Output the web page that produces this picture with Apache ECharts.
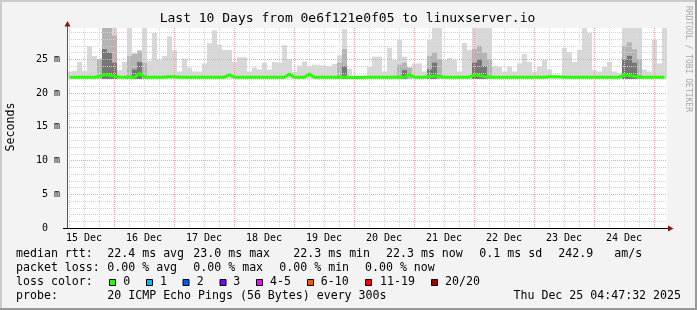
<!DOCTYPE html>
<html><head><meta charset="utf-8">
<script src="https://cdn.jsdelivr.net/npm/echarts@6/dist/echarts.min.js"></script>
<style>html,body{margin:0;padding:0;background:#f3f3f3}#c{width:697px;height:310px}</style>
</head><body><div id="c"></div>
<script>
// ---- data ----
const START_HOUR = 5.2;     // hours after 15 Dec 00:00 at left edge
const END_HOUR = 245.2;
const BIN_HOURS = 2;
const Y_MAX = 29.64;        // ms
const SMOKE_FLOOR = 22.1;   // ms
const dayLabels = ['15 Dec','16 Dec','17 Dec','18 Dec','19 Dec','20 Dec','21 Dec','22 Dec','23 Dec','24 Dec'];
const yTickValues = [0,5,10,15,20,25];
// top of the smoke (max of the 20 pings) per 2-hour bin, ms
const smokeTop = [
  23.2,23.3,24.6,23.3,26.9,25.5,24.5,29.7,29.7,29.7,
  23.4,24.6,29.7,25.9,26.0,29.7,24.8,28.9,24.9,25.5,
  28.4,26.3,23.2,25.1,23.8,23.2,23.2,24.4,27.4,29.3,
  27.2,26.4,26.4,24.6,25.3,25.3,23.2,23.8,23.5,24.5,
  23.5,24.6,24.5,27.1,25.0,23.2,24.1,24.7,24.0,24.2,
  24.1,24.1,24.0,24.3,25.6,29.5,23.6,22.6,22.6,22.6,
  23.9,25.4,25.4,23.2,26.7,24.9,27.9,25.4,23.2,24.4,
  24.4,23.2,27.9,29.7,29.7,24.9,25.2,24.9,23.2,27.4,
  26.4,29.7,29.7,29.7,29.7,24.0,23.9,23.2,23.9,23.2,
  24.4,25.8,24.6,23.2,23.9,24.9,23.5,22.6,22.6,26.7,
  26.1,24.6,26.4,29.7,28.9,23.4,23.2,23.9,24.6,23.2,
  23.0,29.7,29.7,29.7,29.7,23.5,23.2,27.9,24.4,29.7
];
// inner (denser) smoke layers: [bin, top ms]
const smokeMid = [[6,25.0],[7,29.7],[8,29.7],[9,28.5],[12,25.5],[13,25.8],[14,26.3],[15,24.5],
  [54,24.5],[55,26.5],[66,24.2],[67,24.5],[68,23.8],[72,25.5],[73,26.0],[74,25.0],
  [81,26.5],[82,27.0],[83,26.0],[84,25.0],[111,27.0],[112,27.5],[113,26.5],[114,25.0]];
const smokeDark = [[7,26.5],[8,26.0],[9,24.5],[13,23.5],[14,24.6],[55,24.0],[67,23.4],
  [72,23.5],[73,24.5],[81,24.5],[82,25.0],[83,24.0],[111,25.0],[112,25.5],[113,24.5]];
// median rtt per 2-hour bin, ms
const medianRtt = [
  22.35,22.35,22.35,22.35,22.35,22.35,22.45,22.75,22.65,22.5,
  22.35,22.35,22.35,22.35,22.9,22.35,22.35,22.35,22.35,22.35,
  22.4,22.4,22.35,22.35,22.35,22.35,22.35,22.35,22.35,22.35,
  22.35,22.35,22.7,22.35,22.35,22.35,22.35,22.35,22.35,22.35,
  22.35,22.35,22.35,22.35,22.8,22.35,22.35,22.35,22.8,22.35,
  22.35,22.35,22.35,22.35,22.35,22.4,22.3,22.3,22.3,22.35,
  22.35,22.35,22.35,22.35,22.35,22.35,22.35,22.35,22.75,22.35,
  22.35,22.35,22.5,22.5,22.5,22.35,22.35,22.35,22.35,22.35,
  22.35,22.7,22.6,22.45,22.35,22.35,22.35,22.35,22.35,22.35,
  22.35,22.35,22.35,22.35,22.35,22.35,22.4,22.4,22.4,22.35,
  22.35,22.35,22.35,22.35,22.35,22.35,22.35,22.35,22.35,22.35,
  22.35,22.7,22.6,22.5,22.35,22.35,22.35,22.35,22.35,22.35
];
const rttStats = ['22.4 ms avg','23.0 ms max','22.3 ms min','22.3 ms now','0.1 ms sd','242.9','am/s'];
const lossStats = ['0.00 % avg','0.00 % max','0.00 % min','0.00 % now'];
const lossLabels = ['0','1','2','3','4-5','6-10','11-19','20/20'];
const lossColors = ['#26ff00','#00b8ff','#0059ff','#7e00ff','#ff00ff','#ff5500','#ff0000','#a10000'];
const probeText = '20 ICMP Echo Pings (56 Bytes) every 300s';
const stampText = 'Thu Dec 25 04:47:32 2025';
const titleText = 'Last 10 Days from 0e6f121e0f05 to linuxserver.io';

// ---- layout ----
const MONO = '"DejaVu Sans Mono", monospace';
const sixHours = [], midnights = [], noons = [];
for (let h = 6; h < END_HOUR; h += 6) { if (h > START_HOUR) sixHours.push(h); }
for (let d = 1; d <= 10; d++) midnights.push(24 * d);
for (let d = 0; d < 10; d++) noons.push(12 + 24 * d);
const minorY = []; for (let v = 1; v < Y_MAX; v++) minorY.push(v);

function binStart(i) { return START_HOUR + BIN_HOURS * i; }
const lightData = smokeTop.map((v, i) => [binStart(i), SMOKE_FLOOR, v]);
const midData = smokeMid.map(p => [binStart(p[0]), SMOKE_FLOOR, p[1]]);
const darkData = smokeDark.map(p => [binStart(p[0]), SMOKE_FLOOR, p[1]]);
const medData = medianRtt.map((v, i) => [binStart(i) + BIN_HOURS / 2, v]);

function smokeRender(color) {
  return function (params, api) {
    const t = api.value(0), lo = api.value(1), hi = Math.min(api.value(2), Y_MAX);
    const a = api.coord([t, hi]);
    const b = api.coord([t + BIN_HOURS, lo]);
    return { type: 'rect', shape: { x: a[0], y: a[1], width: b[0] - a[0], height: b[1] - a[1] },
      style: { fill: color } };
  };
}
function smokeSeries(name, data, color, z) {
  return { name, type: 'custom', data, renderItem: smokeRender(color), xAxisIndex: 0, yAxisIndex: 0,
    encode: { x: 0, y: [1, 2] }, clip: true, z, silent: true };
}

function txt(x, y, s, extra) {
  return { type: 'text', x, y, silent: true,
    style: Object.assign({ text: s, font: '11.6px ' + MONO, fill: '#000', align: 'left', verticalAlign: 'middle' }, extra || {}) };
}
const rowY = [253.6, 267.6, 281.6, 295.6];
const rttX = [107.3, 193.3, 293.3, 386, 479.3, 558.3, 614.3];
const lossX = [107.3, 193.3, 279.3, 365];
const boxX = [109, 146, 182.5, 219.5, 256, 307, 365, 431];
const boxLabelX = [123.3, 160, 196.7, 233.3, 270, 320.7, 380, 445];

const graphic = [];
// frame shading
graphic.push({ type: 'rect', shape: { x: 0, y: 0, width: 697, height: 2 }, style: { fill: '#cbcbcb' }, silent: true });
graphic.push({ type: 'rect', shape: { x: 0, y: 0, width: 2, height: 310 }, style: { fill: '#cbcbcb' }, silent: true });
graphic.push({ type: 'rect', shape: { x: 0, y: 308, width: 697, height: 2 }, style: { fill: '#999999' }, silent: true });
graphic.push({ type: 'rect', shape: { x: 695, y: 0, width: 2, height: 310 }, style: { fill: '#999999' }, silent: true });
// axis extensions and arrows
graphic.push({ type: 'line', shape: { x1: 63, y1: 228.5, x2: 67, y2: 228.5 }, style: { stroke: '#000', lineWidth: 1 }, silent: true, z: 10 });
graphic.push({ type: 'line', shape: { x1: 667, y1: 228.5, x2: 669, y2: 228.5 }, style: { stroke: '#000', lineWidth: 1 }, silent: true, z: 10 });
graphic.push({ type: 'line', shape: { x1: 67.5, y1: 28, x2: 67.5, y2: 26 }, style: { stroke: '#555', lineWidth: 1 }, silent: true, z: 10 });
graphic.push({ type: 'polygon', shape: { points: [[668, 225.5], [673.5, 228.5], [668, 231.5]] }, style: { fill: '#8b1010' }, silent: true, z: 10 });
graphic.push({ type: 'polygon', shape: { points: [[64.5, 26.5], [67.5, 21], [70.5, 26.5]] }, style: { fill: '#8b1010' }, silent: true, z: 10 });
// side texts
graphic.push(txt(10.5, 127, 'Seconds', { align: 'center', font: '11.6px ' + MONO }));
graphic[graphic.length - 1].rotation = Math.PI / 2;
graphic.push(txt(688.5, 59, 'RRDTOOL / TOBI OETIKER', { align: 'center', font: '8px ' + MONO, fill: '#a8a8a8' }));
graphic[graphic.length - 1].rotation = -Math.PI / 2;
graphic.push(txt(347.5, 18.5, titleText, { align: 'center', font: '13px ' + MONO }));
// legend rows
graphic.push(txt(16, rowY[0], 'median rtt:'));
rttStats.forEach((s, i) => graphic.push(txt(rttX[i], rowY[0], s)));
graphic.push(txt(16, rowY[1], 'packet loss:'));
lossStats.forEach((s, i) => graphic.push(txt(lossX[i], rowY[1], s)));
graphic.push(txt(16, rowY[2], 'loss color:'));
lossLabels.forEach((s, i) => {
  graphic.push({ type: 'rect', shape: { x: boxX[i] + 0.5, y: 279.5, width: 6, height: 6 },
    style: { fill: lossColors[i], stroke: '#000', lineWidth: 1 }, silent: true });
  graphic.push(txt(boxLabelX[i], rowY[2], s));
});
graphic.push(txt(16, rowY[3], 'probe:'));
graphic.push(txt(107.3, rowY[3], probeText));
graphic.push(txt(681, rowY[3], stampText, { align: 'right' }));

const gridLine = { color: '#d2d2d2', width: 1, type: [1, 1] };
const majorLine = { color: '#f4a0a0', width: 1, type: [1, 1] };
const labelStyle = { fontFamily: MONO, fontSize: 10, color: '#000' };

const option = {
  animation: false,
  backgroundColor: '#f3f3f3',
  grid: { left: 67, top: 28, width: 600, height: 200, show: true, backgroundColor: '#ffffff', borderWidth: 0, outerBoundsMode: 'none' },
  xAxis: [
    { type: 'value', min: START_HOUR, max: END_HOUR, position: 'bottom', z: 3,
      axisLine: { show: false }, axisLabel: { show: false },
      axisTick: { show: false, customValues: sixHours },
      splitLine: { show: true, lineStyle: gridLine } },
    { type: 'value', min: START_HOUR, max: END_HOUR, position: 'bottom', z: 3,
      axisLine: { show: true, onZero: false, lineStyle: { color: '#000', width: 1 } },
      axisTick: { show: false, customValues: midnights },
      axisLabel: Object.assign({ show: true, customValues: noons, margin: 5,
        formatter: v => dayLabels[Math.round((v - 12) / 24)] }, labelStyle),
      splitLine: { show: true, lineStyle: majorLine } }
  ],
  yAxis: [
    { type: 'value', min: 0, max: Y_MAX, position: 'left', z: 3,
      axisLine: { show: false }, axisLabel: { show: false },
      axisTick: { show: false, customValues: minorY },
      splitLine: { show: true, lineStyle: gridLine } },
    { type: 'value', min: 0, max: Y_MAX, position: 'left', z: 3,
      axisLine: { show: true, onZero: false, lineStyle: { color: '#555', width: 1 } },
      axisTick: { show: false, customValues: yTickValues.filter(v => v > 0) },
      axisLabel: Object.assign({ show: true, customValues: yTickValues, margin: 7,
        formatter: v => v === 0 ? '0  ' : v + ' m' }, labelStyle),
      splitLine: { show: true, lineStyle: majorLine } }
  ],
  series: [
    smokeSeries('smoke', lightData, '#d8d8d8', 1),
    smokeSeries('smoke-mid', midData, '#b4b4b4', 1),
    smokeSeries('smoke-dark', darkData, '#767676', 1),
    { name: 'median rtt', type: 'line', data: medData, xAxisIndex: 0, yAxisIndex: 0,
      showSymbol: false, symbol: 'none', z: 5, silent: true,
      lineStyle: { color: '#26ff00', width: 3 } }
  ],
  graphic: graphic
};
const chart = echarts.init(document.getElementById('c'), null, { renderer: 'canvas' });
chart.setOption(option);
</script></body></html>
